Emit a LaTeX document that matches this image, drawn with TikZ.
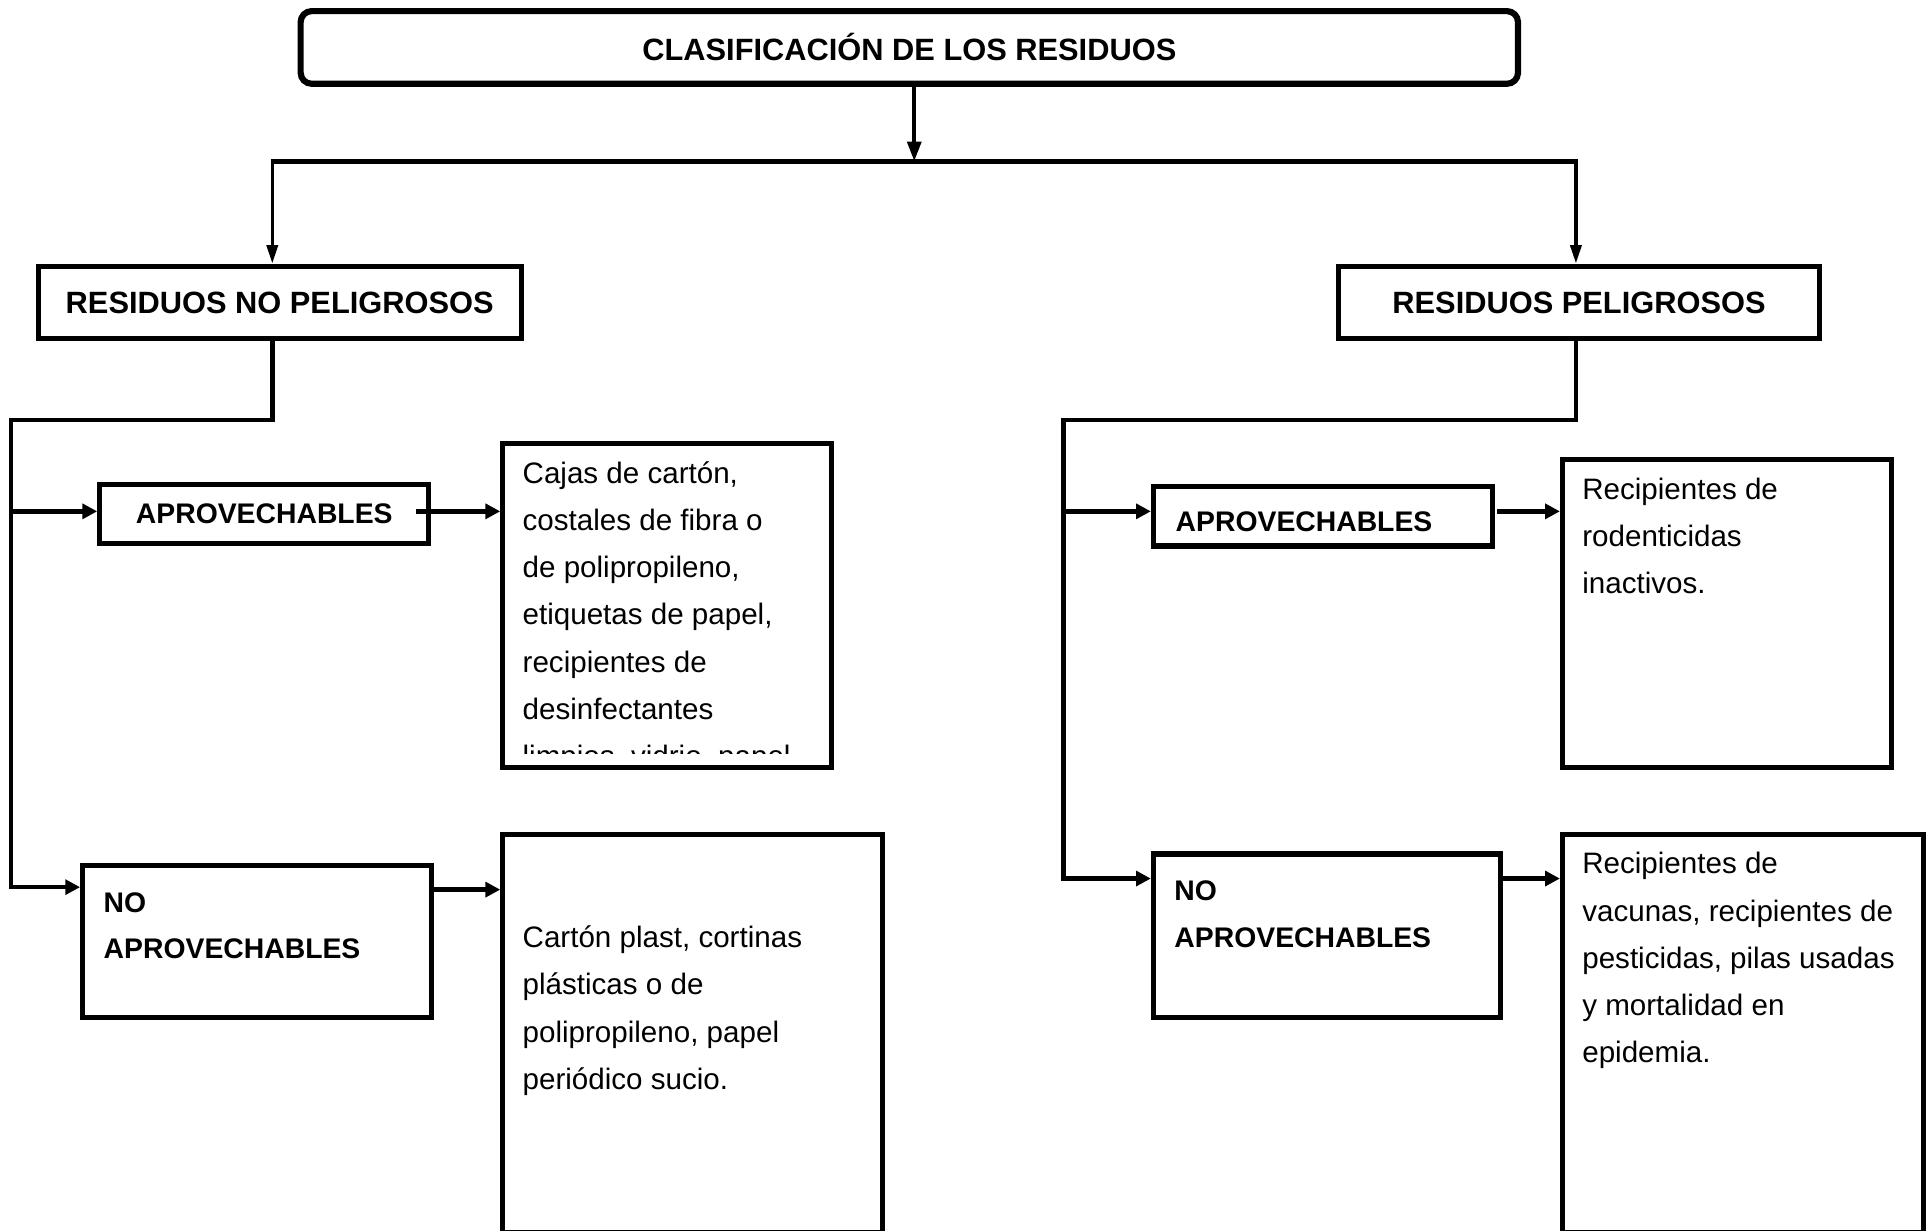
\documentclass[tikz,border=0pt]{standalone}
\usepackage{fontspec}
\setmainfont{Liberation Sans}
\usetikzlibrary{arrows.meta}
\begin{document}
\begin{tikzpicture}[x=1pt,y=-1pt,
  box/.style={draw, line width=4.2pt, inner sep=0pt},
  titlebox/.style={draw, line width=5pt, rounded corners=9pt, inner sep=0pt},
  bigl/.style={font=\bfseries\fontsize{25}{30}\selectfont},
  midl/.style={font=\bfseries\fontsize{23}{30}\selectfont},
  stackl/.style={font=\bfseries\fontsize{23}{38}\selectfont, inner sep=0pt, align=left, anchor=north west},
  body/.style={font=\fontsize{24}{38.3}\selectfont, inner sep=0pt, align=left, anchor=north west},
  arr/.style={line width=3.6pt, -{Triangle[length=12pt,width=12pt]}},
  tarr/.style={line width=2.8pt, -{Triangle[length=15pt,width=9pt]}},
  marr/.style={line width=3.4pt, -{Triangle[length=16pt,width=11pt]}}
]
\fill[white] (0,0) rectangle (1568,999);
\useasboundingbox (0,0) rectangle (1568,999);

% top level
\node[titlebox, bigl, minimum width=988pt, minimum height=59pt] (title) at (738,38.5) {CLASIFICACIÓN DE LOS RESIDUOS};
\node[box, bigl, minimum width=392pt, minimum height=59pt] (rnp) at (227,245.5) {RESIDUOS NO PELIGROSOS};
\node[box, bigl, minimum width=391pt, minimum height=59pt] (rp) at (1281.5,245.5) {RESIDUOS PELIGROSOS};

% left branch boxes
\node[box, midl, minimum width=267pt, minimum height=48pt] (apl) at (214.5,417) {APROVECHABLES};
\node[box, minimum width=283pt, minimum height=124pt, anchor=north west] (nol) at (65,700) {};
\node[stackl] (nolt) at ([xshift=19pt,yshift=-20pt]nol.north west) {\rule{0pt}{20pt}NO\\APROVECHABLES};
\node[box, minimum width=267pt, minimum height=263pt, anchor=north west] (cl1) at (406,358) {};
\begin{scope}
\clip ([xshift=2pt,yshift=-2pt]cl1.north west) rectangle ([xshift=-2pt,yshift=14pt]cl1.south east);
\node[body] (cl1t) at ([xshift=18pt,yshift=-14pt]cl1.north west) {\rule{0pt}{20pt}Cajas de cartón,\\costales de fibra o\\de polipropileno,\\etiquetas de papel,\\recipientes de\\desinfectantes\\limpios, vidrio, papel};
\end{scope}
\node[box, minimum width=308pt, minimum height=323pt, anchor=north west] (cl2) at (406,675) {};
\node[body] (cl2t) at ([xshift=18pt,yshift=-74pt]cl2.north west) {\rule{0pt}{20pt}Cartón plast, cortinas\\plásticas o de\\polipropileno, papel\\periódico sucio.};

% right branch boxes
\node[box, minimum width=275pt, minimum height=48pt, anchor=north west] (apr) at (934,393) {};
\node[midl, anchor=west, inner sep=0pt] (aprt) at ([xshift=20pt,yshift=-4pt]apr.west) {APROVECHABLES};
\node[box, minimum width=282pt, minimum height=133pt, anchor=north west] (nor) at (934,691) {};
\node[stackl] (nort) at ([xshift=19pt,yshift=-20pt]nor.north west) {\rule{0pt}{20pt}NO\\APROVECHABLES};
\node[box, minimum width=267pt, minimum height=250pt, anchor=north west] (cr1) at (1266,371) {};
\node[body] (cr1t) at ([xshift=18pt,yshift=-14pt]cr1.north west) {\rule{0pt}{20pt}Recipientes de\\rodenticidas\\inactivos.};
\node[box, minimum width=293pt, minimum height=323pt, anchor=north west] (cr2) at (1266,675) {};
\node[body] (cr2t) at ([xshift=18pt,yshift=-14pt]cr2.north west) {\rule{0pt}{20pt}Recipientes de\\vacunas, recipientes de\\pesticidas, pilas usadas\\y mortalidad en\\epidemia.};

% connectors top
\coordinate (tl) at (742,131);
\coordinate (bl) at (221,131);
\coordinate (br) at (1279,131);
\draw[marr] (title.south -| tl) -- (tl);
\draw[line width=4.6pt] ([xshift=-1.4pt]bl) -- ([xshift=1.4pt]br);
\draw[tarr] (bl) -- (bl |- rnp.north);
\draw[tarr] (br) -- (br |- rp.north);

% left spine
\coordinate (sl1) at (221,341);
\coordinate (sl2) at (9,341);
\coordinate (sl3) at (9,720);
\coordinate (slb) at (9,415);
\draw[arr, line join=miter] (bl |- rnp.south) -- (sl1) -- (sl2) -- (sl3) -- (sl3 -| nol.west);
\draw[arr] (slb) -- (slb -| apl.west);
\coordinate (al) at (338,415);
\draw[arr] (al) -- (al -| cl1.west);
\coordinate (nl) at (349,722);
\draw[arr] (nl) -- (nl -| cl2.west);

% right spine
\coordinate (sr1) at (1279,341);
\coordinate (sr2) at (863,341);
\coordinate (sr3) at (863,713);
\coordinate (srb) at (863,415);
\draw[arr, line join=miter] (br |- rp.south) -- (sr1) -- (sr2) -- (sr3) -- (sr3 -| nor.west);
\draw[arr] (srb) -- (srb -| apr.west);
\coordinate (ar) at (1215,415);
\draw[arr] (ar) -- (ar -| cr1.west);
\coordinate (nr) at (1217,713);
\draw[arr] (nr) -- (nr -| cr2.west);
\end{tikzpicture}
\end{document}
